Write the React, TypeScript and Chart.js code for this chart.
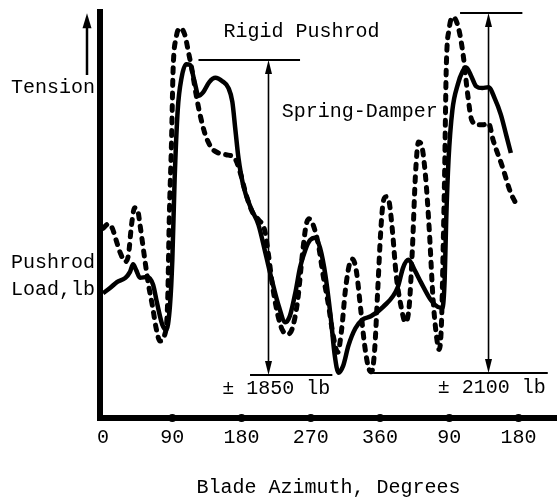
import React, { useEffect, useRef } from "react";
import { Chart, registerables } from "chart.js";

Chart.register(...registerables);

const FONT = "'Liberation Mono', 'Courier New', monospace";

// Blade azimuth ticks (two revolutions, second one relabelled)
const azimuthTicks = [0, 90, 180, 270, 360, 450, 540];
const azimuthTickLabels = ["0", "90", "180", "270", "360", "90", "180"];

// Solid curve (pushrod load, lb, arbitrary zero at the axis)
const solidAzimuth = [0, 9, 18, 29, 35, 39, 43, 48, 57, 65, 70, 77, 82, 87, 90, 93, 97, 102, 108, 113, 119, 124, 130, 138, 146, 155, 163, 168, 172, 176, 182, 192, 202, 211, 220, 228, 237, 243, 250, 256, 263, 269, 276, 282, 289, 296, 301, 306, 312, 319, 328, 337, 348, 364, 383, 390, 397, 405, 413, 426, 435, 441, 444, 446, 449, 454, 461, 467, 472, 478, 485, 493, 501, 509, 517, 524, 530];
const solidLoad = [1460, 1520, 1590, 1640, 1710, 1800, 1730, 1640, 1650, 1560, 1350, 1090, 1030, 1320, 1850, 2790, 3600, 3980, 4140, 4130, 3930, 3770, 3810, 3930, 3980, 3940, 3860, 3700, 3370, 3040, 2730, 2460, 2260, 1930, 1590, 1320, 1120, 1200, 1470, 1760, 1970, 2080, 2110, 1990, 1670, 1170, 740, 530, 610, 850, 1050, 1150, 1190, 1300, 1530, 1760, 1850, 1730, 1590, 1380, 1300, 1290, 1620, 2320, 3020, 3600, 3900, 4050, 4100, 4010, 3880, 3860, 3870, 3740, 3550, 3310, 3100];

// Dashed curve
const dashedAzimuth = [0, 7, 12, 17, 22, 29, 33, 37, 41, 45, 48, 54, 59, 64, 69, 74, 80, 84, 86, 89, 91, 95, 100, 106, 111, 116, 121, 126, 133, 141, 150, 160, 171, 178, 186, 194, 202, 210, 215, 220, 227, 233, 240, 246, 253, 259, 264, 268, 273, 280, 286, 293, 299, 305, 310, 315, 320, 324, 329, 335, 340, 345, 349, 353, 357, 361, 364, 368, 372, 376, 381, 387, 393, 398, 402, 406, 410, 414, 419, 424, 429, 435, 437, 440, 442, 444, 446, 450, 455, 462, 468, 474, 479, 487, 494, 501, 507, 519, 530, 536];
const dashedLoad = [2220, 2270, 2220, 2080, 1940, 1830, 1910, 2260, 2460, 2430, 2260, 1870, 1560, 1320, 1050, 900, 970, 1380, 2320, 3250, 4070, 4450, 4560, 4490, 4280, 4050, 3780, 3550, 3310, 3160, 3100, 3080, 3040, 2880, 2610, 2410, 2320, 2200, 1910, 1560, 1210, 1030, 980, 1050, 1380, 1910, 2260, 2330, 2260, 2020, 1670, 1320, 970, 770, 1030, 1500, 1790, 1860, 1730, 1260, 850, 590, 540, 800, 1500, 2200, 2520, 2590, 2520, 2200, 1670, 1320, 1120, 1320, 1970, 2840, 3230, 3190, 2840, 2200, 1380, 850, 800, 1150, 1970, 2900, 4070, 4560, 4690, 4560, 4250, 3780, 3490, 3430, 3430, 3450, 3250, 2940, 2630, 2520];

// Y axis side labels (placed at load values)
const yLabelValues = [1656, 3860];
const yLabelTexts = [["Pushrod", "Load,lb"], ["Tension"]];

// Peak-to-peak brackets
const bracketArrowAz = [215, 501];
const bracketTop = [4189, 4739];
const bracketBottom = [503, 527];
const bracketTopFrom = [124, 464];
const bracketTopTo = [256, 545];
const bracketBottomFrom = [191, 351];
const bracketBottomTo = [298, 578];

// Text notes
const noteTexts = ["Rigid Pushrod", "Spring-Damper", "± 1850 lb", "± 2100 lb"];
const noteAzimuth = [258, 435, 155, 435];
const noteLoad = [4516, 3580, 340, 350];
const noteAlign = ["center", "right", "left", "left"];

// "Tension" arrow span (load values)
const tensionArrowFrom = 4013;
const tensionArrowTo = 4735;

const Y_MAX = 4750;
const X_MIN = -4;
const X_MAX = 590;

function arrowHead(ctx: CanvasRenderingContext2D, x: number, y: number, dir: number, w: number, l: number) {
  ctx.beginPath();
  ctx.moveTo(x, y);
  ctx.lineTo(x - w / 2, y - dir * l);
  ctx.lineTo(x + w / 2, y - dir * l);
  ctx.closePath();
  ctx.fill();
}

const overlayPlugin = {
  id: "overlay",
  afterDraw(chart: any) {
    const { ctx, chartArea } = chart;
    const xs = chart.scales.x;
    const ys = chart.scales.y;
    ctx.save();
    ctx.fillStyle = "#000";
    ctx.strokeStyle = "#000";

    // tick dots on the azimuth axis
    for (const t of azimuthTicks) {
      if (t === 0) continue;
      const px = xs.getPixelForValue(t);
      ctx.beginPath();
      ctx.arc(px, chartArea.bottom, 4, 0, Math.PI * 2);
      ctx.fill();
    }

    // brackets
    for (let i = 0; i < bracketArrowAz.length; i++) {
      const ax = xs.getPixelForValue(bracketArrowAz[i]);
      const ty = ys.getPixelForValue(bracketTop[i]);
      const by = ys.getPixelForValue(bracketBottom[i]);
      ctx.lineWidth = 2;
      ctx.beginPath();
      ctx.moveTo(xs.getPixelForValue(bracketTopFrom[i]), ty);
      ctx.lineTo(xs.getPixelForValue(bracketTopTo[i]), ty);
      ctx.moveTo(xs.getPixelForValue(bracketBottomFrom[i]), by);
      ctx.lineTo(xs.getPixelForValue(bracketBottomTo[i]), by);
      ctx.stroke();
      ctx.lineWidth = 1.6;
      ctx.beginPath();
      ctx.moveTo(ax, ty + 6);
      ctx.lineTo(ax, by - 6);
      ctx.stroke();
      arrowHead(ctx, ax, ty, -1, 7, 14);
      arrowHead(ctx, ax, by, 1, 7, 14);
    }

    // Tension arrow
    const tx = chartArea.left - 13;
    const tTop = ys.getPixelForValue(tensionArrowTo);
    const tBot = ys.getPixelForValue(tensionArrowFrom);
    ctx.lineWidth = 2.5;
    ctx.beginPath();
    ctx.moveTo(tx, tBot);
    ctx.lineTo(tx, tTop + 8);
    ctx.stroke();
    arrowHead(ctx, tx, tTop, -1, 9, 15);

    // notes
    ctx.font = `20px ${FONT}`;
    ctx.textBaseline = "middle";
    for (let i = 0; i < noteTexts.length; i++) {
      ctx.textAlign = noteAlign[i] as CanvasTextAlign;
      ctx.fillText(noteTexts[i], xs.getPixelForValue(noteAzimuth[i]), ys.getPixelForValue(noteLoad[i]));
    }
    ctx.restore();
  },
};

export default function App() {
  const ref = useRef<HTMLCanvasElement | null>(null);

  useEffect(() => {
    if (!ref.current) return;
    const solid = solidAzimuth.map((a, i) => ({ x: a, y: solidLoad[i] }));
    const dashed = dashedAzimuth.map((a, i) => ({ x: a, y: dashedLoad[i] }));
    const chart = new Chart(ref.current, {
      type: "line",
      data: {
        datasets: [
          {
            label: "Rigid Pushrod",
            data: solid,
            borderColor: "#000",
            borderWidth: 4.5,
            pointRadius: 0,
            cubicInterpolationMode: "monotone",
            fill: false,
          },
          {
            label: "Spring-Damper",
            data: dashed,
            borderColor: "#000",
            borderWidth: 5,
            borderDash: [5, 7.5],
            borderCapStyle: "round",
            pointRadius: 0,
            cubicInterpolationMode: "monotone",
            fill: false,
          },
        ],
      },
      options: {
        responsive: false,
        animation: false,
        devicePixelRatio: 1,
        layout: { padding: { top: 12, right: 0, bottom: 0, left: 0 } },
        plugins: { legend: { display: false }, tooltip: { enabled: false } },
        scales: {
          x: {
            type: "linear",
            min: X_MIN,
            max: X_MAX,
            grid: { display: false, drawTicks: false },
            border: { display: true, width: 6, color: "#000" },
            afterBuildTicks: (axis: any) => {
              axis.ticks = azimuthTicks.map((v) => ({ value: v }));
            },
            afterFit: (axis: any) => {
              axis.height = 82;
              axis.paddingLeft = 0;
              axis.paddingRight = 0;
            },
            ticks: {
              color: "#000",
              padding: 8,
              maxRotation: 0,
              autoSkip: false,
              font: { family: FONT, size: 20 },
              callback: (v: any) => {
                const i = azimuthTicks.indexOf(Number(v));
                return i >= 0 ? azimuthTickLabels[i] : "";
              },
            },
            title: {
              display: true,
              text: "Blade Azimuth, Degrees",
              color: "#000",
              padding: 0,
              font: { family: FONT, size: 20 },
            },
          },
          y: {
            type: "linear",
            min: 0,
            max: Y_MAX,
            grid: { display: false, drawTicks: false },
            border: { display: true, width: 6, color: "#000" },
            afterBuildTicks: (axis: any) => {
              axis.ticks = yLabelValues.map((v) => ({ value: v }));
            },
            afterFit: (axis: any) => {
              axis.width = 100;
              axis.paddingTop = 0;
              axis.paddingBottom = 0;
            },
            ticks: {
              color: "#000",
              padding: 5,
              autoSkip: false,
              font: { family: FONT, size: 20, lineHeight: 1.35 },
              callback: (v: any) => {
                const i = yLabelValues.indexOf(Number(v));
                return i >= 0 ? yLabelTexts[i] : "";
              },
            },
          },
        },
      },
      plugins: [overlayPlugin],
    } as any);
    return () => chart.destroy();
  }, []);

  return (
    <div style={{ position: "absolute", left: 0, top: 0, width: 557, height: 500, background: "#fff" }}>
      <canvas ref={ref} width={557} height={500} style={{ display: "block" }} />
    </div>
  );
}
